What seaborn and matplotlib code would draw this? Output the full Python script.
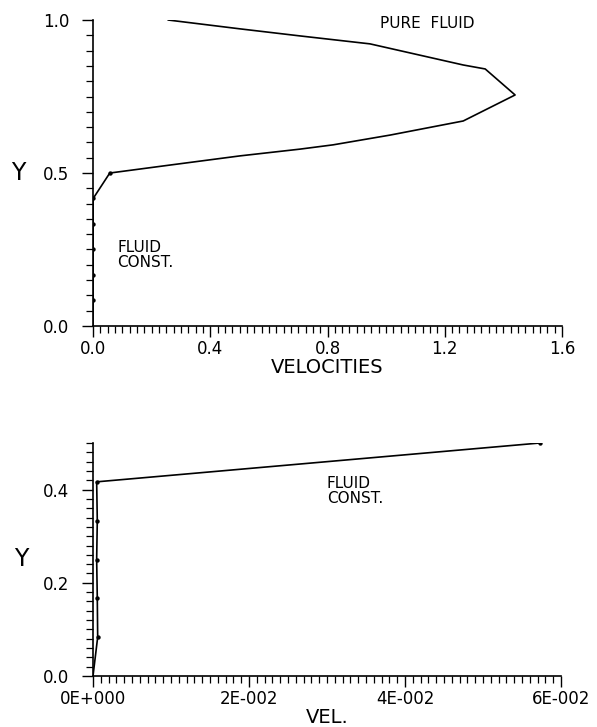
import matplotlib
matplotlib.use("Agg")
import matplotlib.pyplot as plt
from matplotlib.ticker import MultipleLocator, FixedLocator, FixedFormatter
import numpy as np
import pandas as pd
import seaborn as sns

# Velocity profile in the pure-fluid layer (upper half of the channel)
pure_vel = [0.058, 0.263, 0.502, 0.706, 0.819, 1.014, 1.263, 1.440,
            1.338, 1.263, 0.945, 0.706, 0.502, 0.256]
pure_y = [0.500, 0.526, 0.556, 0.578, 0.592, 0.624, 0.670, 0.755,
          0.840, 0.853, 0.922, 0.948, 0.971, 1.000]

# Velocity at the nodes of the fluid-constrained layer (lower half)
const_y = [0.0, 1 / 12, 2 / 12, 3 / 12, 4 / 12, 5 / 12, 6 / 12]
const_vel = [0.0, 0.00060, 0.00055, 0.00047, 0.00055, 0.00047, 0.0573]

top_xticks = [0.0, 0.4, 0.8, 1.2, 1.6]
top_yticks = [0.0, 0.5, 1.0]
bot_xticks = [0.0, 0.02, 0.04, 0.06]
bot_xlabels = ["0E+000", "2E-002", "4E-002", "6E-002"]
bot_yticks = [0.0, 0.2, 0.4]

sns.set_style("ticks")
plt.rcParams["font.family"] = ["DejaVu Sans"]
plt.rcParams["text.color"] = "black"
plt.rcParams["axes.labelcolor"] = "black"

pure = pd.DataFrame({"vel": pure_vel, "y": pure_y})
const = pd.DataFrame({"vel": const_vel, "y": const_y})

fig = plt.figure(figsize=(5.97, 7.27), dpi=100)
ax1 = fig.add_axes([93 / 597, 1 - 326 / 727, 469 / 597, 306 / 727])
ax2 = fig.add_axes([93 / 597, 1 - 676 / 727, 468 / 597, 233 / 727])

line_kw = dict(color="black", linewidth=1.2, sort=False, estimator=None)
dot_kw = dict(color="black", s=10, linewidth=0, zorder=5)

# Upper panel: full velocity range
sns.lineplot(data=pure, x="vel", y="y", ax=ax1, **line_kw)
sns.lineplot(data=const, x="vel", y="y", ax=ax1, **line_kw)
sns.scatterplot(data=const.iloc[1:], x="vel", y="y", ax=ax1, **dot_kw)
ax1.set_xlim(0, 1.6)
ax1.set_ylim(0, 1.0)
ax1.xaxis.set_major_locator(FixedLocator(top_xticks))
ax1.xaxis.set_minor_locator(MultipleLocator(0.025))
ax1.yaxis.set_major_locator(FixedLocator(top_yticks))
ax1.yaxis.set_minor_locator(MultipleLocator(0.05))
ax1.set_xticklabels([f"{v:.1f}" for v in top_xticks])
ax1.set_yticklabels([f"{v:.1f}" for v in top_yticks])
ax1.set_xlabel("VELOCITIES", fontsize=14, labelpad=0, color="black")
ax1.set_ylabel("")
ax1.text(-0.16, 0.5, "Y", transform=ax1.transAxes, fontsize=17,
         ha="center", va="center", color="black")
ax1.text(1.14, 0.99, "PURE  FLUID", fontsize=11, ha="center", va="center",
         color="black")
ax1.text(0.082, 0.232, "FLUID\nCONST.", fontsize=11, ha="left", va="center",
         linespacing=1.0, color="black")

# Lower panel: zoom on the constrained layer
sns.lineplot(data=const, x="vel", y="y", ax=ax2, **line_kw)
sns.scatterplot(data=const.iloc[1:], x="vel", y="y", ax=ax2, **dot_kw)
ax2.set_xlim(0, 0.06)
ax2.set_ylim(0, 0.5)
ax2.xaxis.set_major_locator(FixedLocator(bot_xticks))
ax2.xaxis.set_major_formatter(FixedFormatter(bot_xlabels))
ax2.xaxis.set_minor_locator(MultipleLocator(0.001))
ax2.yaxis.set_major_locator(FixedLocator(bot_yticks))
ax2.yaxis.set_minor_locator(MultipleLocator(0.02))
ax2.set_yticklabels([f"{v:.1f}" for v in bot_yticks])
ax2.set_xlabel("VEL.", fontsize=14, labelpad=0, color="black")
ax2.set_ylabel("")
ax2.text(-0.153, 0.5, "Y", transform=ax2.transAxes, fontsize=17,
         ha="center", va="center", color="black")
ax2.text(0.030, 0.396, "FLUID\nCONST.", fontsize=11, ha="left", va="center",
         linespacing=1.0, color="black")

for ax in (ax1, ax2):
    sns.despine(ax=ax)
    for side in ("left", "bottom"):
        ax.spines[side].set_linewidth(1.2)
        ax.spines[side].set_color("black")
    ax.tick_params(which="major", length=8, width=1.0, color="black",
                   labelsize=12, labelcolor="black")
    ax.tick_params(which="minor", length=5, width=0.9, color="black")
    ax.tick_params(axis="y", which="major", pad=9)
    ax.tick_params(axis="x", which="major", pad=2)
    ax.set_facecolor("white")
    if ax.get_legend():
        ax.get_legend().remove()

fig.savefig("out.png", dpi=100, facecolor="white")
